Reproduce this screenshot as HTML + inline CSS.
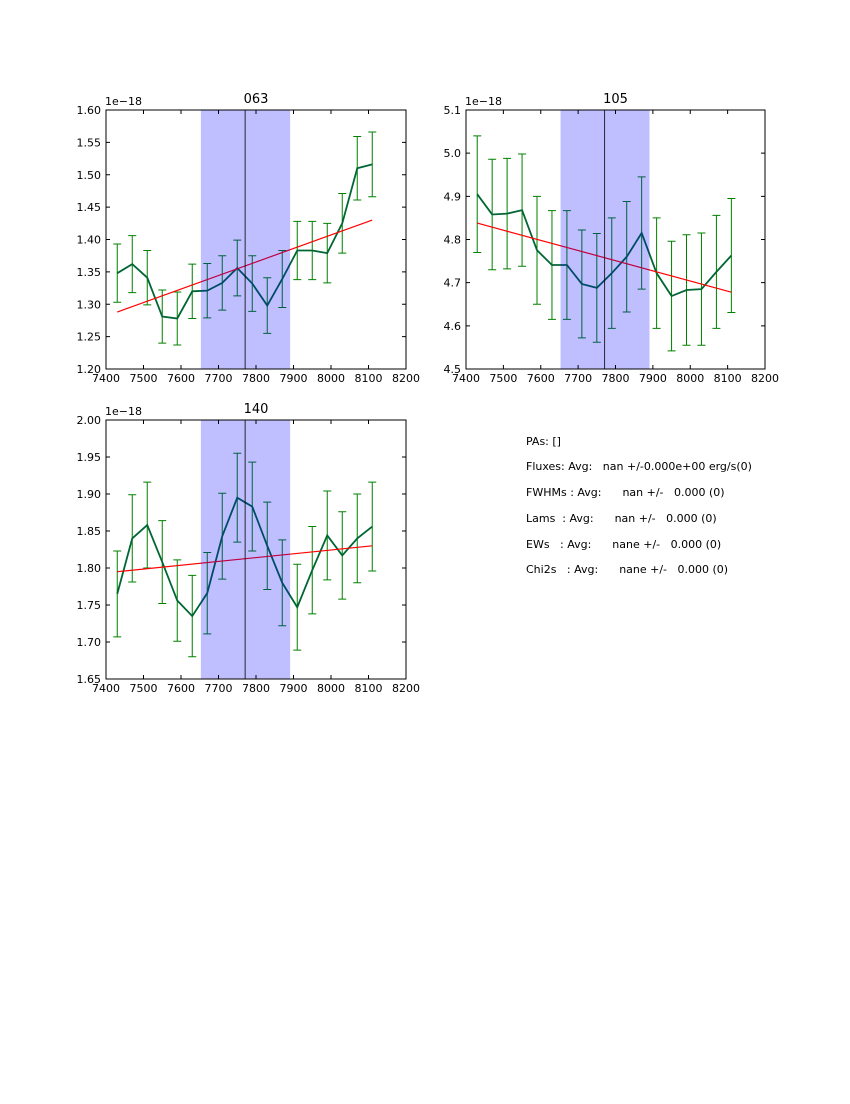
<!DOCTYPE html>
<html><head><meta charset="utf-8"><style>
body{margin:0;background:#fff;font-family:"DejaVu Sans","Liberation Sans",sans-serif}
svg text{font-family:"DejaVu Sans","Liberation Sans",sans-serif;white-space:pre}
</style></head><body>
<svg id="fig" width="850" height="1100" xmlns="http://www.w3.org/2000/svg">
<rect width="850" height="1100" fill="#fff"/>
<g font-size="11" fill="#000">
<text x="526" y="445">PAs: []</text>
<text x="526" y="470">Fluxes: Avg:   nan +/-0.000e+00 erg/s(0)</text>
<text x="526" y="496">FWHMs : Avg:      nan +/-   0.000 (0)</text>
<text x="526" y="522">Lams  : Avg:      nan +/-   0.000 (0)</text>
<text x="526" y="548">EWs   : Avg:      nane +/-   0.000 (0)</text>
<text x="526" y="573">Chi2s   : Avg:      nane +/-   0.000 (0)</text>
</g>
</svg>
<script>
const waves=[7430,7470,7510,7550,7590,7630,7670,7710,7750,7790,7830,7870,7910,7950,7990,8030,8070,8110];
const flux063=[1.348,1.362,1.341,1.281,1.278,1.320,1.321,1.333,1.356,1.332,1.298,1.339,1.383,1.383,1.379,1.425,1.510,1.516];
const err063=[0.045,0.044,0.042,0.041,0.041,0.042,0.042,0.042,0.043,0.043,0.043,0.044,0.045,0.045,0.046,0.046,0.049,0.050];
const fit063=[1.288,1.430];
const flux105=[4.905,4.858,4.860,4.868,4.775,4.741,4.741,4.697,4.688,4.722,4.760,4.815,4.722,4.669,4.683,4.685,4.725,4.763];
const err105=[0.135,0.128,0.128,0.130,0.125,0.126,0.126,0.125,0.126,0.128,0.128,0.130,0.128,0.127,0.128,0.130,0.131,0.132];
const fit105=[4.838,4.678];
const flux140=[1.765,1.840,1.858,1.808,1.756,1.735,1.766,1.843,1.895,1.883,1.830,1.780,1.747,1.797,1.844,1.817,1.840,1.856];
const err140=[0.058,0.059,0.058,0.056,0.055,0.055,0.055,0.058,0.060,0.060,0.059,0.058,0.058,0.059,0.060,0.059,0.060,0.060];
const fit140=[1.795,1.830];
const xTicks=[7400,7500,7600,7700,7800,7900,8000,8100,8200];
const band=[7653,7891];
const vline=7771;
const NS='http://www.w3.org/2000/svg';
const svg=document.getElementById('fig');
function mk(tag,attrs,parent){const e=document.createElementNS(NS,tag);for(const k in attrs)e.setAttribute(k,attrs[k]);parent.appendChild(e);return e;}
function panel(name,title,L,T,W,H,ymin,ymax,ystep,ydec,flux,err,fit){
  const g=mk('g',{},svg);
  
  
  const X=v=>L+(v-7400)/800*W, Y=v=>T+H-(v-ymin)/(ymax-ymin)*H;
  for(let i=0;i<waves.length;i++){
    const x=X(waves[i]),y1=Y(flux[i]-err[i]),y2=Y(flux[i]+err[i]);
    const e=mk('path',{d:`M${x},${y1}V${y2}M${x-4},${y1}H${x+4}M${x-4},${y2}H${x+4}`,stroke:'#008000','stroke-width':1,fill:'none'},g);
    
    
  }
  const ln=mk('polyline',{points:waves.map((w,i)=>X(w)+','+Y(flux[i])).join(' '),stroke:'#006633','stroke-width':1.8,fill:'none'},g);
  
  
  const f=mk('line',{x1:X(waves[0]),y1:Y(fit[0]),x2:X(waves[waves.length-1]),y2:Y(fit[1]),stroke:'#ff0000','stroke-width':1.2},g);
  
  
  const b=mk('rect',{x:X(band[0]),y:T,width:X(band[1])-X(band[0]),height:H,fill:'#0000ff','fill-opacity':0.25},g);
  
  
  const v=mk('line',{x1:X(vline),y1:T,x2:X(vline),y2:T+H,stroke:'#000','stroke-width':0.8},g);
  
  
  const fr=mk('rect',{x:L,y:T,width:W,height:H,fill:'none',stroke:'#000','stroke-width':1},g);
  
  
  xTicks.forEach(t=>{const x=X(t);
    mk('path',{d:`M${x},${T+H}v-4M${x},${T}v4`,stroke:'#000'},g);
    const tx=mk('text',{x:x,y:T+H+13,'font-size':11,'text-anchor':'middle'},g);tx.textContent=t;
    
    });
  const n=Math.round((ymax-ymin)/ystep);
  for(let k=0;k<=n;k++){const val=ymin+k*ystep,y=Y(val);
    mk('path',{d:`M${L},${y}h4M${L+W},${y}h-4`,stroke:'#000'},g);
    const tx=mk('text',{x:L-5,y:y+4,'font-size':11,'text-anchor':'end'},g);tx.textContent=val.toFixed(ydec);
    
    }
  const off=mk('text',{x:L-1,y:T-5,'font-size':11},g);off.textContent='1e\u221218';
  
  
  const tt=mk('text',{x:L+W/2,y:T-7,'font-size':13,'text-anchor':'middle'},g);tt.textContent=title;
  
  
}
panel('063','063',106,110,300,259,1.20,1.60,0.05,2,flux063,err063,fit063);
panel('105','105',466,110,299,259,4.5,5.1,0.1,1,flux105,err105,fit105);
panel('140','140',106,420,300,259,1.65,2.00,0.05,2,flux140,err140,fit140);
</script>
</body></html>
